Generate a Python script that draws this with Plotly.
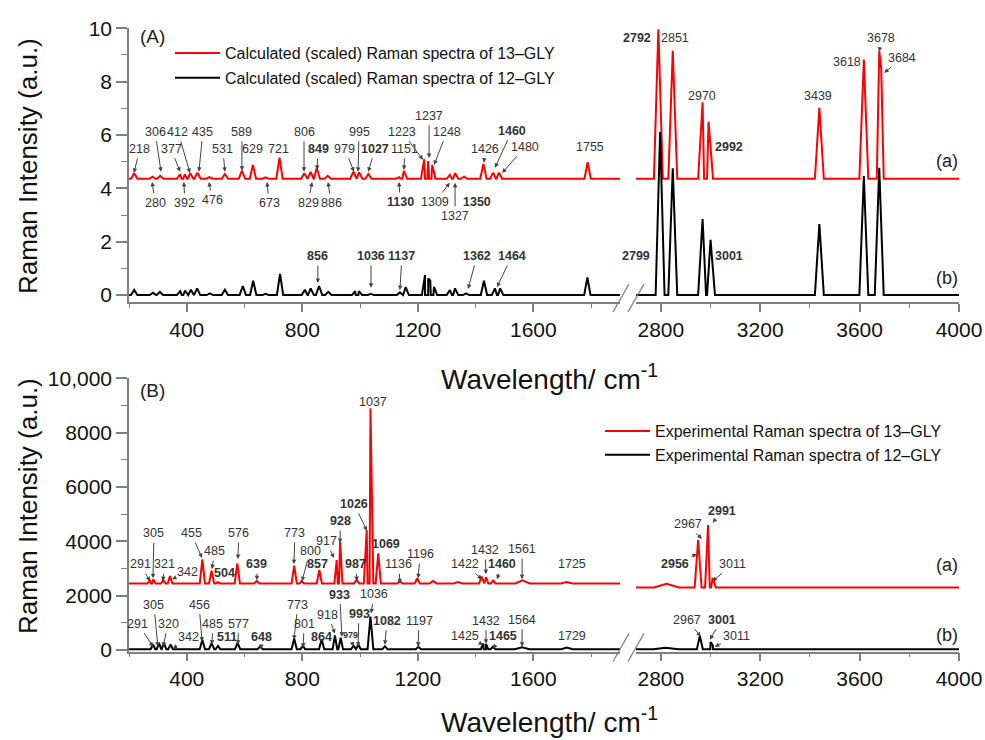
import plotly.graph_objects as go

# ---------------- Panel A : calculated (scaled) spectra ----------------
A_red_base = 4.36
A_red_left_pos = [218, 281, 308, 377, 393, 412, 437, 478, 532, 591, 629, 673, 721, 807, 829, 850, 888,
                  977, 997, 1029, 1135, 1152, 1222, 1236, 1250, 1311, 1329, 1360, 1427, 1461, 1481, 1788]
A_red_left_top = [4.57, 4.44, 4.47, 4.53, 4.53, 4.57, 4.59, 4.42, 4.54, 4.67, 4.88, 4.41, 5.15, 4.57, 4.62, 4.76, 4.47,
                  4.63, 4.60, 4.54, 4.42, 4.66, 5.09, 5.02, 4.88, 4.51, 4.57, 4.44, 4.91, 4.59, 4.59, 4.98]
A_red_right_pos = [2790, 2848, 2968, 2992, 3438, 3617, 3679, 3687]
A_red_right_top = [9.96, 9.16, 7.23, 6.50, 7.02, 8.83, 9.14, 8.50]

A_blk_base = 0.0
A_blk_left_pos = [218, 283, 307, 377, 394, 414, 436, 480, 532, 594, 630, 673, 723, 809, 829, 858, 890,
                  983, 996, 1037, 1138, 1158, 1225, 1236, 1243, 1256, 1311, 1329, 1367, 1429, 1467, 1485, 1787]
A_blk_left_top = [0.19, 0.09, 0.12, 0.15, 0.17, 0.20, 0.25, 0.06, 0.20, 0.34, 0.54, 0.05, 0.79, 0.20, 0.25, 0.34, 0.12,
                  0.15, 0.15, 0.05, 0.10, 0.30, 0.75, 0.62, 0.55, 0.31, 0.19, 0.25, 0.06, 0.54, 0.25, 0.25, 0.66]
A_blk_right_pos = [2797, 2848, 2968, 3000, 3438, 3617, 3679]
A_blk_right_top = [6.12, 4.75, 2.85, 2.07, 2.66, 4.46, 4.77]

# ---------------- Panel B : experimental spectra ----------------
B_red_base_left = 2450
B_red_base_right = 2300
B_red_left_pos = [272, 284, 319, 342, 454, 486, 508, 575, 642, 772, 798, 859, 919, 931, 988, 1023, 1036,
                  1063, 1138, 1198, 1253, 1339, 1421, 1436, 1461, 1562, 1715]
B_red_left_top = [2576, 2600, 2576, 2724, 3338, 2919, 2500, 3191, 2540, 3103, 2540, 2944, 3312, 3986, 2576, 4417, 8896,
                  3559, 2540, 2639, 2540, 2500, 2698, 2680, 2560, 2560, 2500]
B_red_left_hw = [8, 8, 8, 8, 9, 9, 8, 9, 9, 9, 8, 9, 8, 8, 9, 10, 10,
                 9, 9, 9, 12, 15, 9, 8, 8, 25, 20]
B_red_right_pos = [2823, 2950, 2990, 3009]
B_red_right_top = [2440, 4048, 4600, 2650]
B_red_right_hw = [50, 14, 12, 12]

B_blk_base = 30
B_blk_left_pos = [283, 304, 321, 344, 454, 486, 508, 576, 654, 772, 802, 867, 913, 933, 977, 994, 1036,
                  1086, 1202, 1427, 1436, 1460, 1561, 1716]
B_blk_left_top = [200, 250, 250, 200, 380, 260, 150, 260, 130, 420, 150, 400, 540, 450, 160, 200, 1226,
                  140, 120, 240, 220, 120, 100, 90]
B_blk_left_hw = [8, 8, 8, 8, 9, 9, 8, 9, 9, 9, 8, 9, 8, 8, 8, 8, 10,
                 9, 9, 9, 8, 8, 25, 20]
B_blk_right_pos = [2820, 2957, 3000, 3009]
B_blk_right_top = [80, 520, 290, 170]
B_blk_right_hw = [50, 12, 10, 10]

LEFT_RANGE = [200, 1900]
RIGHT_RANGE = [2700, 4000]

names = {
    "A13": "Calculated (scaled) Raman spectra of 13\u2013GLY",
    "A12": "Calculated (scaled) Raman spectra of 12\u2013GLY",
    "B13": "Experimental Raman spectra of 13\u2013GLY",
    "B12": "Experimental Raman spectra of 12\u2013GLY",
}

# Peak labels: text, bold, segment, x, y, ax, ay (ax None -> plain text)
A_labels = [
    ("218", 0, "L", 217, 4.58, 6, -24), ("306", 0, "L", 311, 4.62, -6, -40),
    ("377", 0, "L", 377, 4.62, -9, -23), ("412", 0, "L", 411, 4.58, -12, -41),
    ("435", 0, "L", 442, 4.62, 4, -40), ("531", 0, "L", 532, 4.62, -2, -23),
    ("589", 0, "L", 591, 4.66, 0, -39), ("629", 0, "L", 626, 5.48, None, None),
    ("721", 0, "L", 719, 5.48, None, None), ("806", 0, "L", 806, 4.62, 0, -40),
    ("849", 1, "L", 851, 4.69, 1, -21), ("979", 0, "L", 979, 4.62, -9, -23),
    ("995", 0, "L", 993, 4.62, 1, -40), ("1027", 1, "L", 1028, 4.62, 7, -23),
    ("1151", 0, "L", 1152, 4.69, 1, -21), ("1223", 0, "L", 1218, 5.07, -21, -28),
    ("1237", 0, "L", 1239, 5.14, 0, -42), ("1248", 0, "L", 1256, 4.88, 13, -33),
    ("1426", 0, "L", 1429, 4.96, 1, -14), ("1460", 1, "L", 1467, 4.77, 17, -37),
    ("1480", 0, "L", 1492, 4.58, 23, -26), ("1755", 0, "L", 1796, 5.56, None, None),
    ("2792", 1, "R", 2704, 9.64, None, None), ("2851", 0, "R", 2856, 9.64, None, None),
    ("2970", 0, "R", 2965, 7.47, None, None), ("2992", 1, "R", 3073, 5.56, None, None),
    ("3439", 0, "R", 3434, 7.47, None, None), ("3618", 0, "R", 3551, 8.74, None, None),
    ("3678", 0, "R", 3679, 9.12, 2, -14), ("3684", 0, "R", 3699, 8.33, 18, -15),
    ("280", 0, "L", 280, 4.24, 3, 21), ("392", 0, "L", 390, 4.24, 1, 21),
    ("476", 0, "L", 477, 4.24, 3, 18), ("673", 0, "L", 678, 4.24, 2, 21),
    ("829", 0, "L", 834, 4.24, -4, 21), ("886", 0, "L", 889, 4.24, 3, 21),
    ("1130", 1, "L", 1135, 4.24, 1, 20), ("1309", 0, "L", 1311, 4.21, -15, 19),
    ("1327", 0, "L", 1329, 4.21, 0, 33), ("1350", 1, "L", 1363, 4.21, 12, 19),
    ("856", 1, "L", 854, 0.45, 0, -27), ("1036", 1, "L", 1038, 0.27, 0, -32),
    ("1137", 1, "L", 1138, 0.19, 2, -34), ("1362", 1, "L", 1374, 0.23, 9, -33),
    ("1464", 1, "L", 1474, 0.30, 15, -31),
    ("2799", 1, "R", 2700, 1.47, None, None), ("3001", 1, "R", 3073, 1.47, None, None),
]
B_labels = [
    ("305", 0, "L", 283, 2643, 1, -45), ("291", 0, "L", 273, 2532, -10, -17),
    ("321", 0, "L", 318, 2532, 1, -17), ("342", 0, "L", 349, 2606, 15, -7),
    ("455", 0, "L", 453, 3384, -11, -25), ("485", 0, "L", 487, 2976, 3, -18),
    ("504", 1, "L", 508, 2457, 7, -10), ("576", 0, "L", 577, 3347, 1, -26),
    ("639", 1, "L", 643, 2569, 0, -16), ("773", 0, "L", 771, 3162, 1, -31),
    ("800", 0, "L", 799, 2532, 8, -30), ("857", 1, "L", 854, 3162, None, None),
    ("917", 0, "L", 910, 3384, -8, -17), ("928", 1, "L", 931, 3940, 0, -22),
    ("1026", 1, "L", 1024, 4385, -13, -27), ("1037", 0, "L", 1045, 9126, None, None),
    ("987", 1, "L", 989, 2532, -1, -17), ("1069", 1, "L", 1090, 3903, None, None),
    ("1136", 0, "L", 1138, 2457, -1, -19), ("1196", 0, "L", 1201, 2643, 2, -24),
    ("1422", 0, "L", 1422, 2606, -17, -15), ("1432", 0, "L", 1436, 2791, -1, -24),
    ("1460", 1, "L", 1474, 2606, 5, -15), ("1561", 0, "L", 1561, 2606, 0, -30),
    ("1725", 0, "L", 1734, 3162, None, None),
    ("2956", 1, "R", 2945, 3532, -22, 10), ("2967", 0, "R", 2965, 4088, -14, -15),
    ("2991", 1, "R", 3009, 4683, 9, -12), ("3011", 0, "R", 3009, 2532, 20, -17),
    ("305", 0, "L", 300, 122, -4, -42), ("291", 0, "L", 283, 122, -15, -23),
    ("320", 0, "L", 318, 122, 5, -23), ("342", 0, "L", 352, 48, 16, -12),
    ("456", 0, "L", 453, 308, -3, -37), ("485", 0, "L", 487, 196, 1, -21),
    ("511", 1, "L", 508, 122, 9, -10), ("577", 0, "L", 577, 196, 1, -21),
    ("648", 1, "L", 657, 40, 1, -12), ("773", 0, "L", 771, 382, 4, -35),
    ("801", 0, "L", 803, 85, 1, -24), ("864", 1, "L", 865, 493, None, None),
    ("918", 0, "L", 913, 604, -7, -19), ("933", 1, "L", 937, 493, -2, -42),
    ("979", 2, "L", 976, 122, -3, -12), ("993", 1, "L", 993, 122, 1, -33),
    ("1036", 0, "L", 1038, 1345, 3, -19), ("1082", 1, "L", 1086, 196, 2, -24),
    ("1197", 0, "L", 1201, 122, 1, -26), ("1425", 0, "L", 1426, 196, -18, -9),
    ("1432", 0, "L", 1436, 233, 0, -23), ("1465", 1, "L", 1460, 48, 10, -13),
    ("1564", 0, "L", 1561, 122, 0, -27), ("1729", 0, "L", 1734, 530, None, None),
    ("2967", 0, "R", 2961, 493, -14, -17), ("3001", 1, "R", 2997, 382, 12, -20),
    ("3011", 0, "R", 3017, 122, 22, -11),
]

FONT = "Arial, Liberation Sans, sans-serif"
RED = "#ff0000"
BLACK = "#000000"
AXC = "#7f7f7f"

# page geometry (pixels)
ML, MT, PW, PH = 129, 20, 830, 700


def px(x):
    return (x - ML) / PW


def py(y):
    return 1 - (y - MT) / PH


def spectrum(pos, top, base, hw, rng):
    """Polyline through the read peak tops, each peak rising from the baseline."""
    if not isinstance(hw, list):
        hw = [hw] * len(pos)
    pts = [(rng[0], base), (rng[1], base)]
    for p, t, w in zip(pos, top, hw):
        pts += [(p - w, base), (p, t), (p + w, base)]
    pts.sort(key=lambda q: q[0])
    pts = [q for q in pts if rng[0] <= q[0] <= rng[1]]
    return [q[0] for q in pts], [q[1] for q in pts]


fig = go.Figure()


def add(pos, top, base, hw, rng, color, xa, ya, name, legend, show, group):
    x, y = spectrum(pos, top, base, hw, rng)
    fig.add_trace(go.Scatter(x=x, y=y, mode="lines", line=dict(color=color, width=2),
                             xaxis=xa, yaxis=ya, name=name, legend=legend, showlegend=show,
                             legendgroup=group, hoverinfo="skip"))


add(A_red_left_pos, A_red_left_top, A_red_base, 11, LEFT_RANGE, RED, "x", "y", names["A13"], "legend", True, "a13")
add(A_red_right_pos, A_red_right_top, A_red_base, 18, RIGHT_RANGE, RED, "x2", "y", names["A13"], "legend", False, "a13")
add(A_blk_left_pos, A_blk_left_top, A_blk_base, 11, LEFT_RANGE, BLACK, "x", "y", names["A12"], "legend", True, "a12")
add(A_blk_right_pos, A_blk_right_top, A_blk_base, 18, RIGHT_RANGE, BLACK, "x2", "y", names["A12"], "legend", False, "a12")

add(B_red_left_pos, B_red_left_top, B_red_base_left, B_red_left_hw, LEFT_RANGE, RED, "x3", "y2", names["B13"], "legend2", True, "b13")
add(B_red_right_pos, B_red_right_top, B_red_base_right, B_red_right_hw, RIGHT_RANGE, RED, "x4", "y2", names["B13"], "legend2", False, "b13")
add(B_blk_left_pos, B_blk_left_top, B_blk_base, B_blk_left_hw, LEFT_RANGE, BLACK, "x3", "y2", names["B12"], "legend2", True, "b12")
add(B_blk_right_pos, B_blk_right_top, B_blk_base, B_blk_right_hw, RIGHT_RANGE, BLACK, "x4", "y2", names["B12"], "legend2", False, "b12")

# ---------------- axes ----------------
left_dom = [0, px(620)]
right_dom = [px(636), 1]
A_dom = [py(302), py(28.3)]
B_dom = [py(651.5), py(378.3)]

xcommon = dict(showline=True, linecolor=AXC, linewidth=1.5, ticks="outside", ticklen=8, tickwidth=1.5,
               tickcolor=AXC, showgrid=False, zeroline=False, tickmode="linear", tick0=0, dtick=400,
               automargin=False, tickfont=dict(size=21, color="#111", family=FONT),
               minor=dict(ticks="outside", ticklen=4, tickwidth=1.2, tickcolor=AXC, dtick=200, tick0=0, showgrid=False))
ycommon = dict(showline=True, linecolor=AXC, linewidth=1.5, ticks="outside", ticklen=11, tickwidth=1.5,
               tickcolor=AXC, showgrid=False, zeroline=False, automargin=False,
               tickfont=dict(size=21, color="#111", family=FONT))

fig.update_layout(
    xaxis=dict(domain=left_dom, range=LEFT_RANGE, anchor="y", **xcommon),
    xaxis2=dict(domain=right_dom, range=RIGHT_RANGE, anchor="y", **xcommon),
    xaxis3=dict(domain=left_dom, range=LEFT_RANGE, anchor="y2", **xcommon),
    xaxis4=dict(domain=right_dom, range=RIGHT_RANGE, anchor="y2", **xcommon),
    yaxis=dict(domain=A_dom, range=[-0.26, 10], anchor="x", tickmode="linear", tick0=0, dtick=2,
               minor=dict(ticks="outside", ticklen=6, tickwidth=1.2, tickcolor=AXC, dtick=1, tick0=0, showgrid=False),
               **ycommon),
    yaxis2=dict(domain=B_dom, range=[-55, 10000], anchor="x3", tickmode="array",
                tickvals=[0, 2000, 4000, 6000, 8000, 10000],
                ticktext=["0", "2000", "4000", "6000", "8000", "10,000"],
                minor=dict(ticks="outside", ticklen=6, tickwidth=1.2, tickcolor=AXC, tickmode="array",
                           tickvals=[1000, 3000, 5000, 7000, 9000], showgrid=False),
                **ycommon),
)

fig.update_layout(
    width=985, height=740,
    margin=dict(l=ML, r=985 - ML - PW, t=MT, b=740 - MT - PH, autoexpand=False),
    paper_bgcolor="white", plot_bgcolor="white",
    font=dict(family=FONT, color="#111"),
    legend=dict(x=px(170), y=py(36), xanchor="left", yanchor="top", bgcolor="rgba(0,0,0,0)",
                font=dict(size=16, family=FONT, color="#111"), itemwidth=45, tracegroupgap=1),
    legend2=dict(x=px(600), y=py(414), xanchor="left", yanchor="top", bgcolor="rgba(0,0,0,0)",
                 font=dict(size=16, family=FONT, color="#111"), itemwidth=45, tracegroupgap=0),
)

# ---------------- annotations ----------------
anns = []


def label_list(labels, xl, xr, yref):
    for text, bold, seg, x, y, ax, ay in labels:
        t = "<b>%s</b>" % text if bold else text
        size = 9 if bold == 2 else 12.5
        xref = xl if seg == "L" else xr
        d = dict(text=t, x=x, y=y, xref=xref, yref=yref,
                 font=dict(size=size, family=FONT, color="#333"))
        if ax is None:
            d.update(showarrow=False, xanchor="center", yanchor="middle")
        else:
            d.update(showarrow=True, ax=ax, ay=ay, arrowhead=2, arrowsize=0.9, arrowwidth=1,
                     arrowcolor="#444", standoff=0, startstandoff=1)
        anns.append(d)


label_list(A_labels, "x", "x2", "y")
label_list(B_labels, "x3", "x4", "y2")

for txt, x, y, s in [("(A)", 152, 36, 19), ("(B)", 152, 390, 19),
                     ("(a)", 947, 161, 18), ("(b)", 947, 278, 18),
                     ("(a)", 947, 565, 18), ("(b)", 947, 635, 18)]:
    anns.append(dict(text=txt, x=px(x), y=py(y), xref="paper", yref="paper", showarrow=False,
                     xanchor="center", yanchor="middle", font=dict(size=s, family=FONT, color="#222")))

for y in (166, 506):
    anns.append(dict(text="Raman Intensity (a.u.)", x=px(28), y=py(y), xref="paper", yref="paper",
                     showarrow=False, textangle=-90, xanchor="center", yanchor="middle",
                     font=dict(size=26, family=FONT, color="#111")))
for y in (377, 720):
    anns.append(dict(text="Wavelength/ cm<sup>-1</sup>", x=px(549), y=py(y), xref="paper", yref="paper",
                     showarrow=False, xanchor="center", yanchor="middle",
                     font=dict(size=28, family=FONT, color="#111")))

fig.update_layout(annotations=anns)

# ---------------- axis-break marks ----------------
shapes = []
for axis_y in (302, 651.5):
    for x0 in (613, 628):
        shapes.append(dict(type="line", xref="paper", yref="paper",
                           x0=px(x0), y0=py(axis_y + 10), x1=px(x0 + 16), y1=py(axis_y - 18),
                           line=dict(color=AXC, width=1.3)))
fig.update_layout(shapes=shapes)

fig.write_html("out.html", config={"displayModeBar": False},
               post_script="document.body.style.margin='0';document.body.style.overflow='hidden';")
